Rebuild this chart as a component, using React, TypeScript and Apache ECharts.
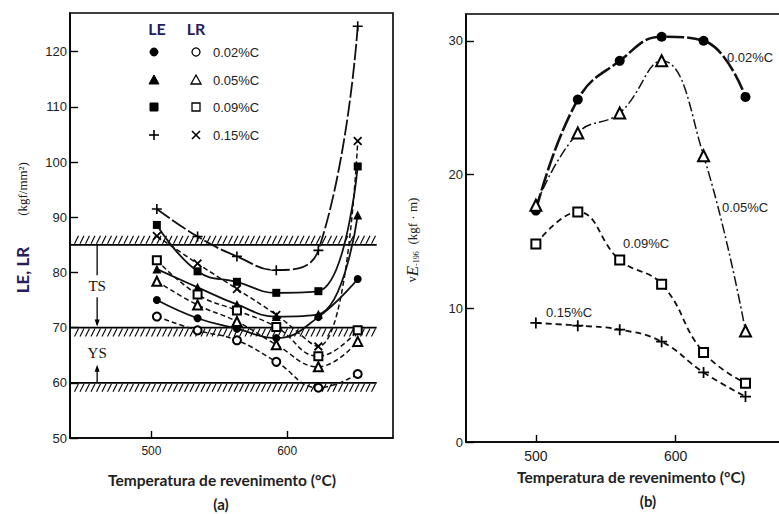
import React, { useEffect, useRef } from "react";
import * as echarts from "echarts";

// ---------- data ----------
const tempsA = [504, 534, 563, 592, 623, 652];
const tempsB = [500, 530, 560, 590, 620, 650];

// panel (a): LE (filled) and LR (open), kgf/mm2
const le002 = [75.0, 71.7, 69.8, 68.1, 71.9, 78.8];
const lr002 = [72.0, 69.5, 67.7, 63.8, 59.1, 61.6];
const le005 = [80.6, 77.3, 74.2, 72.0, 72.4, 90.4];
const lr005 = [78.4, 74.1, 71.1, 66.9, 62.9, 67.5];
const le009 = [88.6, 80.2, 78.3, 76.3, 76.6, 99.2];
const lr009 = [82.2, 76.0, 73.1, 70.1, 64.8, 69.5];
const le015 = [91.5, 86.5, 82.9, 80.4, 84.0, 124.6];
const lr015 = [86.6, 81.6, 77.0, 72.3, 66.6, 103.8];

// panel (b): vE-196, kgf·m
const ve002 = [17.3, 25.6, 28.5, 30.3, 30.0, 25.8];
const ve005 = [17.7, 23.1, 24.6, 28.5, 21.4, 8.3];
const ve009 = [14.8, 17.2, 13.6, 11.8, 6.7, 4.4];
const ve015 = [8.9, 8.7, 8.4, 7.5, 5.2, 3.4];

const carbonLabels = ["0.02%C", "0.05%C", "0.09%C", "0.15%C"];
const leSymbols = ["circle", "triangle", "rect", "plus"];
const lrSymbols = ["circle", "triangle", "rect", "cross"];

const xTicks = [500, 600];
const yTicksA = [50, 60, 70, 80, 90, 100, 110, 120];
const yTicksB = [0, 10, 20, 30];

// reference levels (hatched lines) in panel (a)
const hatchLevels = [85, 70, 60];
const hatchSides = [-1, 1, 1]; // -1: hatch above, 1: hatch below
const hatchEndX = 666;

// ---------- styling helpers ----------
const PLUS = "path://M-0.8,-5H0.8V-0.8H5V0.8H0.8V5H-0.8V0.8H-5V-0.8H-0.8Z";
const CROSS =
  "path://M-4.3,-3.1L-3.1,-4.3L0,-1.2L3.1,-4.3L4.3,-3.1L1.2,0L4.3,3.1L3.1,4.3L0,1.2L-3.1,4.3L-4.3,3.1L-1.2,0Z";

function symOf(kind: string, open: boolean) {
  if (kind === "plus") return PLUS;
  if (kind === "cross") return CROSS;
  if (open) return kind === "circle" ? "emptyCircle" : kind === "triangle" ? "emptyTriangle" : "emptyRect";
  return kind;
}

function series(
  name: string,
  xs: number[],
  ys: number[],
  kind: string,
  open: boolean,
  lineType: any,
  width: number,
  grid: number,
  size: number
) {
  return {
    name,
    type: "line",
    xAxisIndex: grid,
    yAxisIndex: grid,
    data: xs.map((x, i) => [x, ys[i]]),
    smooth: 0.45,
    symbol: symOf(kind, open),
    symbolSize: kind === "rect" ? size - 1 : kind === "triangle" ? size + 1 : size,
    showSymbol: true,
    lineStyle: { color: "#111", width, type: lineType },
    itemStyle: { color: "#000", borderColor: "#000", borderWidth: open ? 1.4 : 0 },
    emphasis: { disabled: true },
    z: 3,
  };
}

const tickFont = { color: "#222", fontFamily: "Liberation Sans, Arial, sans-serif", fontSize: 13 };

function xAxis(grid: number, min: number, max: number, fs: number) {
  return {
    type: "value",
    gridIndex: grid,
    min,
    max,
    axisLine: { show: true, lineStyle: { color: "#000", width: 1.6 } },
    axisTick: { show: true, inside: true, length: 7, lineStyle: { color: "#000", width: 1.4 }, customValues: xTicks },
    axisLabel: { ...tickFont, fontSize: fs, margin: 7, customValues: xTicks },
    splitLine: { show: false },
  };
}

function yAxis(grid: number, min: number, max: number, ticks: number[]) {
  return {
    type: "value",
    gridIndex: grid,
    min,
    max,
    axisLine: { show: true, lineStyle: { color: "#000", width: 1.6 } },
    axisTick: { show: true, inside: true, length: 8, lineStyle: { color: "#000", width: 1.4 }, customValues: ticks },
    axisLabel: { ...tickFont, margin: 3, customValues: ticks },
    splitLine: { show: false },
  };
}

function legendSym(kind: string, filled: boolean, cx: number, cy: number): any {
  const st = filled
    ? { fill: "#000", stroke: "#000", lineWidth: 1 }
    : { fill: "#fff", stroke: "#000", lineWidth: 1.3 };
  if (kind === "circle") return { type: "circle", shape: { cx, cy, r: 4 }, style: st };
  if (kind === "triangle")
    return { type: "polygon", shape: { points: [[cx, cy - 5], [cx + 5, cy + 4], [cx - 5, cy + 4]] }, style: st };
  if (kind === "rect") return { type: "rect", shape: { x: cx - 4, y: cy - 4, width: 8, height: 8 }, style: st };
  const s = { stroke: "#000", lineWidth: 1.6 };
  if (kind === "plus")
    return {
      type: "group",
      children: [
        { type: "line", shape: { x1: cx - 5, y1: cy, x2: cx + 5, y2: cy }, style: s },
        { type: "line", shape: { x1: cx, y1: cy - 5, x2: cx, y2: cy + 5 }, style: s },
      ],
    };
  return {
    type: "group",
    children: [
      { type: "line", shape: { x1: cx - 4, y1: cy - 4, x2: cx + 4, y2: cy + 4 }, style: s },
      { type: "line", shape: { x1: cx - 4, y1: cy + 4, x2: cx + 4, y2: cy - 4 }, style: s },
    ],
  };
}

const option: any = {
  animation: false,
  backgroundColor: "#fff",
  grid: [
    { left: 70, top: 13, right: 386, bottom: 76, show: true, borderColor: "#000", borderWidth: 1.6, backgroundColor: "transparent", outerBoundsMode: "none", containLabel: false },
    { left: 466, top: 14, right: -14, bottom: 72, show: true, borderColor: "#000", borderWidth: 1.6, backgroundColor: "transparent", outerBoundsMode: "none", containLabel: false },
  ],
  xAxis: [xAxis(0, 440, 678, 12), xAxis(1, 450, 684, 14)],
  yAxis: [yAxis(0, 50, 127, yTicksA), yAxis(1, 0, 32, yTicksB)],
  series: [
    {
      type: "custom",
      xAxisIndex: 0,
      yAxisIndex: 0,
      data: hatchLevels.map((v, i) => [v, hatchSides[i]]),
      silent: true,
      z: 1,
      renderItem: (params: any, api: any) => {
        const level = api.value(0);
        const side = api.value(1);
        const cs = params.coordSys;
        const p = api.coord([hatchEndX, level]);
        const x0 = cs.x + 1;
        const x1 = p[0];
        const y = p[1];
        const children: any[] = [
          { type: "line", shape: { x1: x0, y1: y, x2: x1, y2: y }, style: { stroke: "#000", lineWidth: 1.7 } },
        ];
        for (let x = x0 + 5; x < x1; x += 5.5) {
          children.push({
            type: "line",
            shape:
              side > 0
                ? { x1: x + 2.5, y1: y + 1, x2: x - 1.5, y2: y + 9 }
                : { x1: x + 2.5, y1: y - 9, x2: x - 1.5, y2: y - 1 },
            style: { stroke: "#000", lineWidth: 1.1 },
          });
        }
        return { type: "group", children };
      },
    },
    series("LE 0.02%C", tempsA, le002, "circle", false, "solid", 1.8, 0, 8),
    series("LR 0.02%C", tempsA, lr002, "circle", true, [5, 3], 1.5, 0, 8),
    series("LE 0.05%C", tempsA, le005, "triangle", false, "solid", 1.8, 0, 8),
    series("LR 0.05%C", tempsA, lr005, "triangle", true, [5, 3], 1.5, 0, 8),
    series("LE 0.09%C", tempsA, le009, "rect", false, "solid", 1.8, 0, 9),
    series("LR 0.09%C", tempsA, lr009, "rect", true, [5, 3], 1.5, 0, 9),
    series("LE 0.15%C", tempsA, le015, "plus", false, [16, 3], 1.8, 0, 10),
    series("LR 0.15%C", tempsA, lr015, "cross", false, [5, 3], 1.5, 0, 9),
    series("vE 0.02%C", tempsB, ve002, "circle", false, [18, 3], 2.6, 1, 10),
    series("vE 0.05%C", tempsB, ve005, "triangle", true, [10, 3, 2, 3], 1.5, 1, 10),
    series("vE 0.09%C", tempsB, ve009, "rect", true, [6, 4], 1.8, 1, 10),
    series("vE 0.15%C", tempsB, ve015, "plus", false, [6, 4], 1.8, 1, 11),
  ],
};

// annotation anchors (data coordinates of panel a)
const arrowX = 460;
const tsTop = 85;
const tsBottom = 70;
const ysBase = 60;

export default function App() {
  const ref = useRef<HTMLDivElement>(null);
  useEffect(() => {
    const chart = echarts.init(ref.current!, null, { renderer: "svg" });
    chart.setOption(option);
    const px = (x: number, y: number) => chart.convertToPixel({ gridIndex: 0 }, [x, y]) as number[];
    const a = px(arrowX, tsTop);
    const b = px(arrowX, tsBottom);
    const c = px(arrowX, ysBase);
    const mid = (a[1] + b[1]) / 2;
    const ln = { stroke: "#000", lineWidth: 1.3 };
    const g: any[] = [];
    // TS arrow
    g.push({ type: "line", shape: { x1: a[0], y1: a[1], x2: a[0], y2: mid - 11 }, style: ln });
    g.push({ type: "line", shape: { x1: a[0], y1: mid + 11, x2: a[0], y2: b[1] - 3 }, style: ln });
    g.push({ type: "polygon", shape: { points: [[b[0] - 2.5, b[1] - 8], [b[0] + 2.5, b[1] - 8], [b[0], b[1] - 1]] }, style: { fill: "#000" } });
    g.push({ type: "text", style: { text: "TS", x: a[0], y: mid, align: "center", verticalAlign: "middle", fill: "#111", fontFamily: "Liberation Serif, serif", fontSize: 15 } });
    // YS arrow
    g.push({ type: "line", shape: { x1: c[0], y1: c[1], x2: c[0], y2: c[1] - 15 }, style: ln });
    g.push({ type: "polygon", shape: { points: [[c[0] - 2.5, c[1] - 11], [c[0] + 2.5, c[1] - 11], [c[0], c[1] - 18]] }, style: { fill: "#000" } });
    g.push({ type: "text", style: { text: "YS", x: c[0], y: c[1] - 30, align: "center", verticalAlign: "middle", fill: "#111", fontFamily: "Liberation Serif, serif", fontSize: 15 } });

    // legend of panel (a)
    const navy = "#25205a";
    g.push({ type: "text", style: { text: "LE", x: 157, y: 28, align: "center", verticalAlign: "middle", fill: navy, fontFamily: "Lato, sans-serif", fontWeight: "bold", fontSize: 16 } });
    g.push({ type: "text", style: { text: "LR", x: 196, y: 28, align: "center", verticalAlign: "middle", fill: navy, fontFamily: "Lato, sans-serif", fontWeight: "bold", fontSize: 16 } });
    const rows = [52, 80, 107, 135];
    carbonLabels.forEach((lab, i) => {
      g.push(legendSym(leSymbols[i], true, 154, rows[i]));
      g.push(legendSym(lrSymbols[i], false, 196, rows[i]));
      g.push({ type: "text", style: { text: lab, x: 213, y: rows[i], align: "left", verticalAlign: "middle", fill: "#222", fontFamily: "Liberation Sans, Arial, sans-serif", fontSize: 13 } });
    });

    // curve labels of panel (b)
    const lbl = (t: string, x: number, y: number) => ({
      type: "text",
      style: { text: t, x, y, align: "left", verticalAlign: "middle", fill: "#222", fontFamily: "Liberation Sans, Arial, sans-serif", fontSize: 13 },
    });
    g.push(lbl(carbonLabels[0], 727, 57));
    g.push(lbl(carbonLabels[1], 722, 207));
    g.push(lbl(carbonLabels[2], 623, 243));
    g.push(lbl(carbonLabels[3], 546, 312));

    // axis titles
    g.push({ type: "text", rotation: Math.PI / 2, x: 22, y: 270, style: { text: "LE, LR", align: "center", verticalAlign: "middle", fill: navy, fontFamily: "Lato, sans-serif", fontWeight: "bold", fontSize: 17 } });
    g.push({ type: "text", rotation: Math.PI / 2, x: 22, y: 189, style: { text: "(kgf/mm²)", align: "center", verticalAlign: "middle", fill: "#222", fontFamily: "Liberation Serif, serif", fontSize: 13 } });
    g.push({
      type: "text",
      rotation: Math.PI / 2,
      x: 412,
      y: 240,
      style: {
        text: "{v|v}{e|E}{s|-196}  {t|(kgf · m)}",
        align: "center",
        verticalAlign: "middle",
        rich: {
          v: { fontFamily: "Liberation Serif, serif", fontSize: 12, fill: "#222" },
          e: { fontFamily: "Liberation Serif, serif", fontStyle: "italic", fontSize: 17, fill: "#222" },
          s: { fontFamily: "Liberation Serif, serif", fontSize: 8, fill: "#222", verticalAlign: "bottom" },
          t: { fontFamily: "Liberation Serif, serif", fontSize: 13, fill: "#222" },
        },
      },
    });
    const title = (t: string, x: number, y: number, fs: number) => ({
      type: "text",
      style: { text: t, x, y, align: "center", verticalAlign: "middle", fill: "#222", fontFamily: "Lato, sans-serif", fontWeight: "bold", fontSize: fs },
    });
    g.push(title("Temperatura de revenimento (°C)", 222, 480, 15.5));
    g.push(title("Temperatura de revenimento (°C)", 631, 477, 15.5));
    g.push(title("(a)", 221, 504, 15));
    g.push(title("(b)", 648, 501, 15));

    chart.setOption({ graphic: g });
    return () => chart.dispose();
  }, []);
  return (
    <div
      ref={ref}
      style={{ position: "fixed", left: 0, top: 0, width: 779, height: 514, background: "#fff" }}
    />
  );
}
